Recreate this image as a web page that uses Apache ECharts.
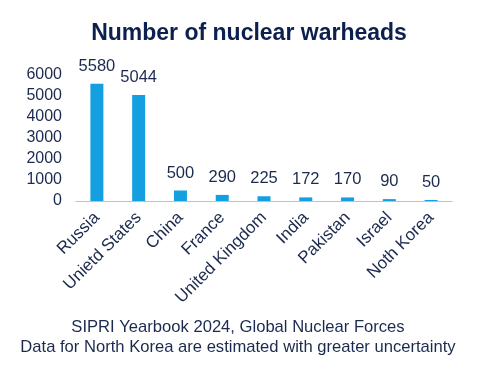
<!DOCTYPE html>
<html><head><meta charset="utf-8">
<script src="https://cdn.jsdelivr.net/npm/echarts@6/dist/echarts.min.js"></script>
<style>html,body{margin:0;padding:0;background:#fff}#c{width:498px;height:370px}</style>
</head><body><div id="c"></div>
<script>
const categories = ["Russia","Unietd States","China","France","United Kingdom","India","Pakistan","Israel","Noth Korea"];
const warheads = [5580,5044,500,290,225,172,170,90,50];
const titleText = "Number of nuclear warheads";
const footerLines = ["SIPRI Yearbook 2024, Global Nuclear Forces","Data for North Korea are estimated with greater uncertainty"];

const chart = echarts.init(document.getElementById('c'), null, {renderer:'canvas'});
const font = 'Liberation Sans, Arial, sans-serif';
chart.setOption({
  animation:false,
  textStyle:{fontFamily:font},
  title:[{text:titleText,left:'center',top:17,textStyle:{fontFamily:font,fontSize:23,fontWeight:'bold',color:'#0c2050'}},
         {text:footerLines.join('\n'),left:233,textAlign:'center',top:312,textStyle:{fontFamily:font,fontSize:16.6,fontWeight:'normal',color:'#1b2a4e',lineHeight:20.5}}],
  grid:{left:76,right:46,top:75,height:126},
  xAxis:{type:'category',data:categories,
    axisLine:{lineStyle:{color:'#a8c6ea',width:1}},axisTick:{show:false},
    axisLabel:{rotate:45,fontSize:17,color:'#1b2a4e',fontFamily:font,margin:14,interval:0}},
  yAxis:{type:'value',min:0,max:6000,interval:1000,
    splitLine:{show:false},axisLine:{show:false},axisTick:{show:false},
    axisLabel:{fontSize:16,color:'#1b2a4e',fontFamily:font,margin:14,formatter:v=>String(v)}},
  series:[{type:'bar',data:warheads,barWidth:13,itemStyle:{color:'#139fe0'},
    label:{show:true,position:'top',distance:9,fontSize:16.5,color:'#1b2a4e',fontFamily:font}}]
});
</script></body></html>
